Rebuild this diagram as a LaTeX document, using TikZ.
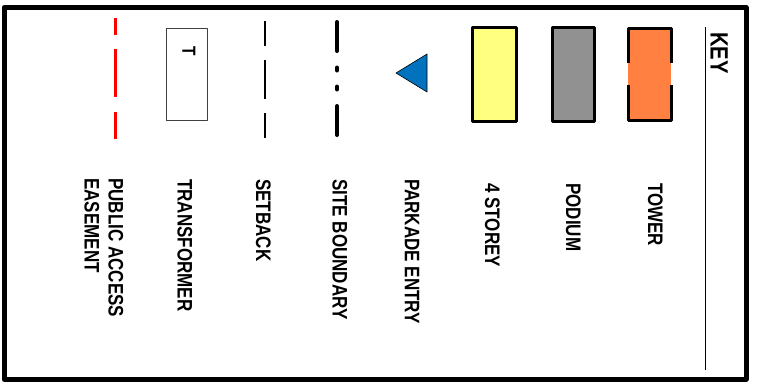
\documentclass[tikz,border=0pt]{standalone}
\usepackage{fontspec}
\newfontfamily\keyfont[FakeStretch=0.81]{Liberation Sans}
\definecolor{towerorange}{RGB}{255,128,64}
\definecolor{podiumgray}{RGB}{145,145,145}
\definecolor{storeyyellow}{RGB}{255,255,128}
\definecolor{parkadeblue}{RGB}{0,114,190}
\begin{document}
\begin{tikzpicture}[x=1pt,y=-1pt,line join=round,
  keylabel/.style={rotate=-90,anchor=north west,inner sep=0pt,align=left,
    font=\keyfont\bfseries\fontsize{21}{24}\selectfont}]
\useasboundingbox (0,0) rectangle (757,383);
% frame and heading
\draw[line width=5pt] (4,7.5) rectangle (746,379);
\node[keylabel,font=\keyfont\bfseries\fontsize{25}{28}\selectfont] (key) at (728,32) {KEY};
\draw[line width=1pt] (705,27) -- (705,370);
% tower (border broken at mid height)
\fill[towerorange] (628,28) rectangle (671,120);
\draw[line width=3pt] (628,63) -- (628,28) -- (671,28) -- (671,63);
\draw[line width=3pt] (628,85) -- (628,120) -- (671,120) -- (671,85);
% podium and 4 storey
\draw[line width=3pt,fill=podiumgray] (552,27) rectangle (594,121);
\draw[line width=3pt,fill=storeyyellow] (472,27) rectangle (516,121);
% parkade entry
\draw[line width=0.6pt,fill=parkadeblue] (396,73) -- (427,54) -- (427,92) -- cycle;
% site boundary: dash dot dot dash
\draw[line width=4pt,line cap=round,dash pattern=on 29pt off 16.5pt on 3pt off 16pt on 3pt off 16.5pt on 29pt]
  (337,22) -- (337,135);
% setback
\draw[line width=1.3pt,dash pattern=on 25pt off 14pt on 39pt off 14pt on 25pt] (265,21) -- (265,138);
% transformer
\draw[line width=0.8pt,draw=black!75] (166,28) rectangle (207,120);
\node[rotate=-90,inner sep=0pt,font=\keyfont\bfseries\fontsize{19}{22}\selectfont] (tmark) at (189,51.5) {T};
% public access easement
\draw[red,line width=3pt,dash pattern=on 17pt off 14pt on 48pt off 15pt on 27pt] (115,18) -- (115,139);
% labels
\node[keylabel] (tower) at (663,183) {TOWER};
\node[keylabel] (podium) at (581,183) {PODIUM};
\node[keylabel] (storey) at (500,183) {4 STOREY};
\node[keylabel] (parkade) at (419.5,179) {PARKADE ENTRY};
\node[keylabel] (site) at (347.5,179) {SITE BOUNDARY};
\node[keylabel] (setback) at (271,179) {SETBACK};
\node[keylabel] (transformer) at (192.5,179) {TRANSFORMER};
\node[keylabel] (easement) at (123.5,178) {PUBLIC ACCESS\\EASEMENT};
\end{tikzpicture}
\end{document}
